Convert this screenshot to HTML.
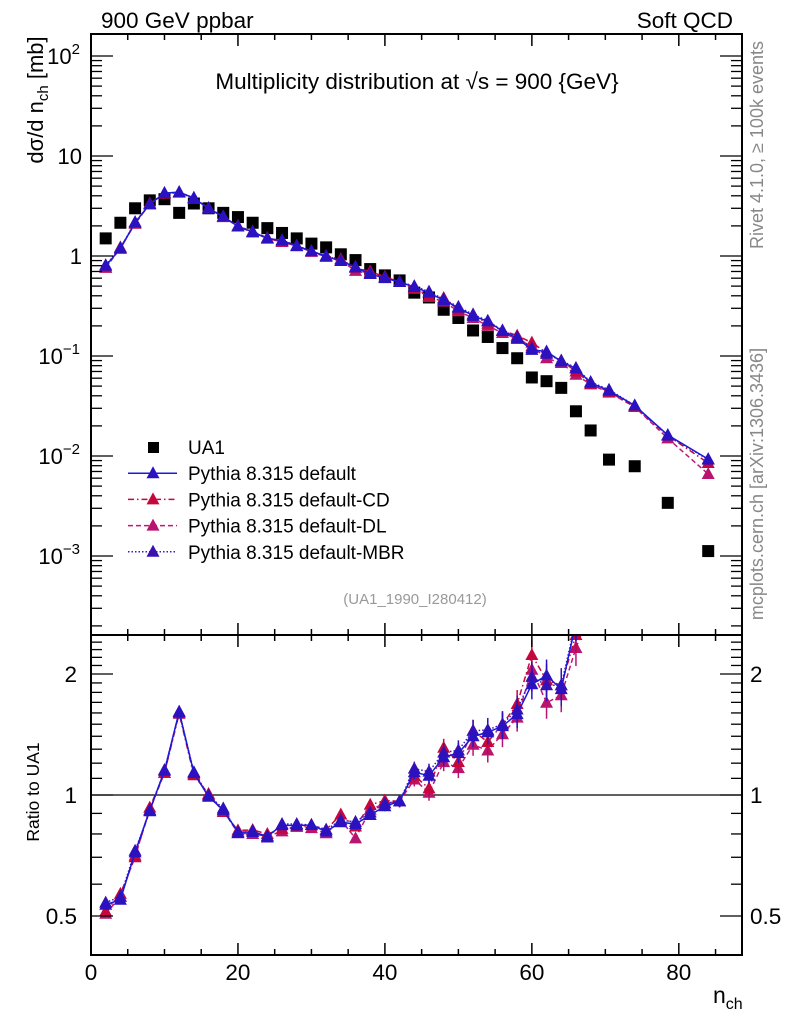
<!DOCTYPE html>
<html><head><meta charset="utf-8"><style>
html,body{margin:0;padding:0;background:#fff;}
svg{display:block;font-family:"Liberation Sans",Arial,sans-serif;}
</style></head><body>
<svg id="chart" width="786" height="1024" viewBox="0 0 786 1024" xmlns="http://www.w3.org/2000/svg">
<text x="101" y="28" font-size="22.5">900 GeV ppbar</text>
<text x="733" y="28" font-size="22.5" text-anchor="end">Soft QCD</text>
<text x="417" y="89" font-size="22.5" text-anchor="middle">Multiplicity distribution at √s = 900 {GeV}</text>
<text transform="translate(763,145) rotate(-90)" font-size="18" fill="#888" text-anchor="middle">Rivet 4.1.0, ≥ 100k events</text>
<text transform="translate(763,484) rotate(-90)" font-size="18" fill="#888" text-anchor="middle">mcplots.cern.ch [arXiv:1306.3436]</text>
<text x="415" y="604" font-size="15" fill="#999" text-anchor="middle">(UA1_1990_I280412)</text>
<text transform="translate(43,100) rotate(-90)" font-size="22" text-anchor="middle">dσ/d n<tspan font-size="15" dy="5">ch</tspan><tspan dy="-5"> [mb]</tspan></text>
<text transform="translate(39,792) rotate(-90)" font-size="17.5" text-anchor="middle">Ratio to UA1</text>
<text x="713" y="1003" font-size="23">n<tspan font-size="16" dy="6">ch</tspan></text>
<g id="main"></g><g id="ratio"></g><g id="axes"></g><g id="legend"></g>
</svg>
<script>
const xs =   [2,4,6,8,10,12,14,16,18,20,22,24,26,28,30,32,34,36,38,40,42,44,46,48,50,52,54,56,58,60,62,64,66,68,70.5,74,78.5,84];
const ua1 =  [1.5,2.15,3.0,3.6,3.7,2.7,3.35,3.0,2.7,2.45,2.15,1.9,1.7,1.5,1.33,1.22,1.04,0.91,0.74,0.64,0.57,0.43,0.385,0.29,0.24,0.18,0.155,0.12,0.095,0.061,0.056,0.048,0.028,0.018,0.0092,0.0079,0.0034,0.00112];
const pDef = [0.80,1.18,2.16,3.3,4.25,4.35,3.8,2.97,2.48,1.98,1.74,1.5,1.43,1.26,1.12,0.99,0.89,0.77,0.66,0.60,0.55,0.49,0.43,0.36,0.305,0.252,0.222,0.178,0.151,0.115,0.111,0.088,0.075,0.054,0.045,0.032,0.0162,0.0093];
const pCD =  [0.77,1.22,2.1,3.35,4.2,4.3,3.75,3.02,2.45,2.0,1.76,1.52,1.4,1.25,1.12,1.0,0.93,0.76,0.7,0.62,0.55,0.48,0.40,0.38,0.29,0.26,0.21,0.18,0.16,0.136,0.108,0.09,0.07,0.053,0.044,0.031,0.016,0.0085];
const pDL =  [0.76,1.2,2.12,3.3,4.2,4.35,3.78,3.0,2.47,1.97,1.72,1.5,1.38,1.26,1.1,0.98,0.9,0.71,0.68,0.61,0.55,0.47,0.39,0.35,0.28,0.24,0.2,0.17,0.148,0.125,0.095,0.085,0.065,0.052,0.043,0.031,0.015,0.0066];
const pMBR = [0.81,1.2,2.18,3.28,4.27,4.33,3.82,2.99,2.5,1.97,1.75,1.49,1.44,1.27,1.12,1.0,0.9,0.78,0.67,0.61,0.55,0.50,0.44,0.37,0.31,0.26,0.225,0.18,0.155,0.12,0.105,0.09,0.076,0.055,0.046,0.032,0.016,0.0092];
const xTicks = [0,20,40,60,80];
const yTicks = [["10","2",100],["10","",10],["1","",1],["10","−1",0.1],["10","−2",0.01],["10","−3",0.001]];
const rTicks = [["2",2],["1",1],["0.5",0.5]];

const NS="http://www.w3.org/2000/svg";
const L=91,R=742,MT=34,MB=635,RT=635,RB=955;
const X=v=>L+(v-0)*(R-L)/88.6;
const Y=v=>256-100*Math.log10(v);
const YR=v=>795-402*Math.log10(v);
function mk(parent,tag,attrs){const e=document.createElementNS(NS,tag);for(const k in attrs)e.setAttribute(k,attrs[k]);parent.appendChild(e);return e;}
const gm=document.getElementById('main'),gr=document.getElementById('ratio'),ga=document.getElementById('axes'),gl=document.getElementById('legend');

const defs=mk(document.getElementById('chart'),'defs',{});
const c1=mk(defs,'clipPath',{id:'cm'});mk(c1,'rect',{x:L,y:MT,width:R-L,height:MB-MT});
const c2=mk(defs,'clipPath',{id:'cr'});mk(c2,'rect',{x:L,y:RT,width:R-L,height:RB-RT});
gm.setAttribute('clip-path','url(#cm)');gr.setAttribute('clip-path','url(#cr)');

const ul=mk(gr,'line',{x1:L,x2:R,y1:YR(1),y2:YR(1),stroke:'#000','stroke-width':1.2});



const series=[
 {name:'default',vals:pDef,col:'#1a1ad8',mcol:'#2a12c0',dash:''},
 {name:'cd',vals:pCD,col:'#c4083e',mcol:'#c4083e',dash:'6,3,1.5,3'},
 {name:'dl',vals:pDL,col:'#c0187a',mcol:'#b81470',dash:'5,3'},
 {name:'mbr',vals:pMBR,col:'#3a16c8',mcol:'#3a10b0',dash:'1.5,2'}
];
function tri(g,x,y,c){return mk(g,'path',{d:`M${x},${y-7}L${x+6.5},${y+5}L${x-6.5},${y+5}Z`,fill:c});}

xs.forEach((x,i)=>{
 const s=mk(gm,'rect',{x:X(x)-6,y:Y(ua1[i])-6,width:12,height:12,fill:'#000'});
 
 
});
[series[2],series[1],series[3],series[0]].forEach(s=>{
 const pm=mk(gm,'polyline',{points:xs.map((x,i)=>X(x)+','+Y(s.vals[i])).join(' '),fill:'none',stroke:s.col,'stroke-width':1.5,'stroke-dasharray':s.dash});
 
 
 const pr=mk(gr,'polyline',{points:xs.map((x,i)=>X(x)+','+YR(s.vals[i]/ua1[i])).join(' '),fill:'none',stroke:s.col,'stroke-width':1.5,'stroke-dasharray':s.dash});
 
 
 xs.forEach((x,i)=>{
  const t=tri(gm,X(x),Y(s.vals[i]),s.mcol);
  
  
  const r=s.vals[i]/ua1[i];
  const yy=YR(r);
  if(x>=40){const e=(x-30)*0.5;mk(gr,'line',{x1:X(x),x2:X(x),y1:yy-e,y2:yy+e,stroke:s.mcol,'stroke-width':1.5});}
  const t2=tri(gr,X(x),yy,s.mcol);
  
  
 });
});

[[MT,MB],[RT,RB]].forEach(([t,b])=>{mk(ga,'rect',{x:L,y:t,width:R-L,height:b-t,fill:'none',stroke:'#000','stroke-width':2});});
for(let v=0;v<=88;v+=5){
 const maj=v%20===0, len=maj?12:6;
 [[MT,1],[MB,-1],[RT,1],[RB,-1]].forEach(([y0,d])=>{
  mk(ga,'line',{x1:X(v),x2:X(v),y1:y0,y2:y0+d*len,stroke:'#000','stroke-width':1.5});
 });
}
xTicks.forEach(v=>{const t=mk(ga,'text',{x:X(v),y:980,'font-size':22.5,'text-anchor':'middle'});t.textContent=v;
 
 });
for(let d=-4;d<=2;d++){for(let m=1;m<10;m++){const v=m*Math.pow(10,d);const y=Y(v);if(y<MT||y>MB)continue;const len=m===1?22:11;
 mk(ga,'line',{x1:L,x2:L+len,y1:y,y2:y,stroke:'#000','stroke-width':1.3});
 mk(ga,'line',{x1:R,x2:R-len,y1:y,y2:y,stroke:'#000','stroke-width':1.3});}}
yTicks.forEach(([b,e,v])=>{const t=mk(ga,'text',{x:e?80:82,y:Y(v)+8,'font-size':22,'text-anchor':'end'});
 
 
 if(e){t.innerHTML=b+'<tspan font-size="15" dy="-10">'+e+'</tspan>';}else t.textContent=b;});
[0.4,0.5,0.6,0.7,0.8,0.9,1,1.1,1.2,1.3,1.4,1.5,1.6,1.7,1.8,1.9,2,2.1,2.2,2.3,2.4,2.5].forEach(v=>{const y=YR(v);if(y<RT||y>RB)return;
 const len=(v===0.5||v===1||v===2)?22:11;
 mk(ga,'line',{x1:L,x2:L+len,y1:y,y2:y,stroke:'#000','stroke-width':1.3});
 mk(ga,'line',{x1:R,x2:R-len,y1:y,y2:y,stroke:'#000','stroke-width':1.3});});
rTicks.forEach(([s,v])=>{[[77,'end'],[750,'start']].forEach(([x,a])=>{const t=mk(ga,'text',{x:x,y:YR(v)+8,'font-size':22.5,'text-anchor':a});t.textContent=s;
 
 });});

const leg=[['UA1',null],['Pythia 8.315 default',series[0]],['Pythia 8.315 default-CD',series[1]],['Pythia 8.315 default-DL',series[2]],['Pythia 8.315 default-MBR',series[3]]];
leg.forEach(([lab,s],i)=>{const y=447+i*26.2;
 const g=mk(gl,'g',{});
 
 
 if(!s){mk(g,'rect',{x:148,y:y-5,width:11,height:11,fill:'#000'});}
 else{mk(g,'line',{x1:128,x2:177,y1:y,y2:y,stroke:s.col,'stroke-width':1.5,'stroke-dasharray':s.dash});tri(g,153,y,s.mcol);}
 const t=mk(g,'text',{x:188,y:y+7,'font-size':19});t.textContent=lab;});
</script>
</body></html>
